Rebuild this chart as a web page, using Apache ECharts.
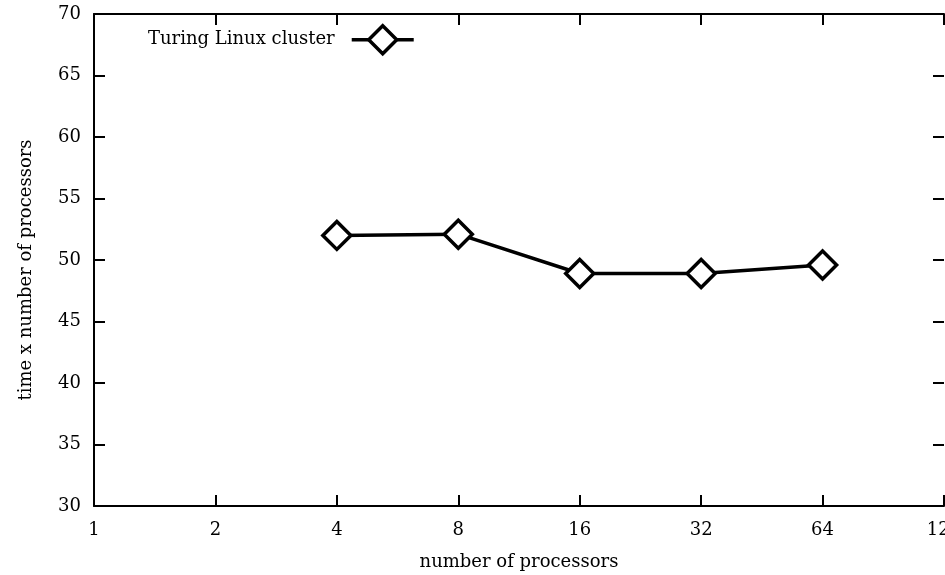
<!DOCTYPE html>
<html>
<head>
<meta charset="utf-8">
<script src="https://cdn.jsdelivr.net/npm/echarts@6/dist/echarts.min.js"></script>
<style>html,body{margin:0;padding:0;background:#fff;}#c{width:945px;height:575px;}</style>
</head>
<body>
<div id="c"></div>
<script>
var processors = [4, 8, 16, 32, 64];
var timeTimesProcs = [52.0, 52.1, 48.9, 48.9, 49.6];
var seriesName = 'Turing Linux cluster';
var xTicks = [1, 2, 4, 8, 16, 32, 64, 128];
var yMin = 30, yMax = 70, yStep = 5;

var chart = echarts.init(document.getElementById('c'));
var font = 'DejaVu Serif';
var axisCommon = {
  axisLine: {show: true, lineStyle: {color: '#000', width: 2}},
  axisTick: {show: true, inside: true, length: 11, lineStyle: {color: '#000', width: 2}},
  splitLine: {show: false}
};
chart.setOption({
  animation: false,
  backgroundColor: '#fff',
  grid: {left: 94, right: 1, top: 14, bottom: 69, containLabel: false, outerBoundsMode: 'none'},
  legend: {
    left: 143, top: 19, itemWidth: 62, itemHeight: 35, itemGap: 0,
    align: 'right',
    textStyle: {fontFamily: font, fontSize: 18, color: '#000', padding: [0, 12, 0, 0]},
    itemStyle: {color: '#fff', borderColor: '#000', borderWidth: 3.5},
    lineStyle: {color: '#000', width: 3.5},
    data: [seriesName]
  },
  xAxis: [
    Object.assign({
      type: 'log', logBase: 2, min: 1, max: 128, position: 'bottom',
      name: 'number of processors', nameLocation: 'middle', nameGap: 47,
      nameTextStyle: {fontFamily: font, fontSize: 18, color: '#000'},
      axisLabel: {fontFamily: font, fontSize: 18, color: '#000', margin: 15,
        formatter: function (v) { return xTicks.indexOf(Math.round(v)) >= 0 ? String(Math.round(v)) : ''; }}
    }, axisCommon),
    Object.assign({
      type: 'log', logBase: 2, min: 1, max: 128, position: 'top',
      axisLabel: {show: false}
    }, axisCommon)
  ],
  yAxis: [
    Object.assign({
      type: 'value', min: yMin, max: yMax, interval: yStep, position: 'left',
      name: 'time x number of processors', nameLocation: 'middle', nameGap: 59, nameRotate: 90,
      nameTextStyle: {fontFamily: font, fontSize: 18, color: '#000', padding: [0, 20, 0, 0]},
      axisLabel: {fontFamily: font, fontSize: 18, color: '#000', margin: 13}
    }, axisCommon),
    Object.assign({
      type: 'value', min: yMin, max: yMax, interval: yStep, position: 'right',
      axisLabel: {show: false}
    }, axisCommon, {axisLine: {show: false}})
  ],
  series: [{
    name: seriesName,
    type: 'line',
    data: processors.map(function (p, i) { return [p, timeTimesProcs[i]]; }),
    symbol: 'diamond',
    symbolSize: [28, 28],
    showAllSymbol: true,
    lineStyle: {color: '#000', width: 3.5},
    itemStyle: {color: '#fff', borderColor: '#000', borderWidth: 3.5},
    emphasis: {disabled: true}
  }]
});
</script>
</body>
</html>
